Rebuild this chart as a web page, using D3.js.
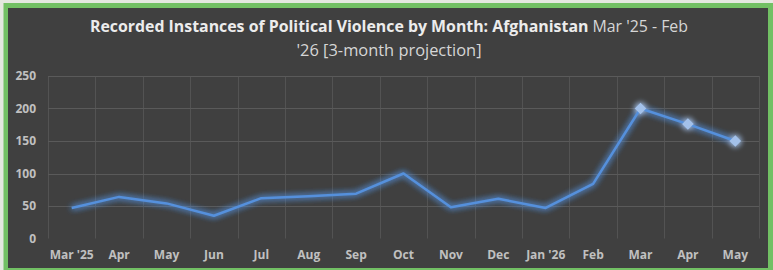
<!DOCTYPE html>
<html>
<head>
<meta charset="utf-8">
<script src="https://cdn.jsdelivr.net/npm/d3@7"></script>
<style>
  body { margin: 0; background: #e4e8e0; }
  #wrapper { width: 773px; height: 270px; }
</style>
</head>
<body>
<div id="wrapper"></div>
<script>
// data
const months = ["Mar '25", "Apr", "May", "Jun", "Jul", "Aug", "Sep", "Oct", "Nov", "Dec", "Jan '26", "Feb", "Mar", "Apr ", "May "]
const incidents = [47, 64, 54, 35, 62, 65, 69, 100, 48, 61, 47, 84, 200, 176, 150]
const projected = [false, false, false, false, false, false, false, false, false, false, false, false, true, true, true]
const yTicks = [0, 50, 100, 150, 200, 250]

function drawChart() {
  const dataset = months.map((m, i) => ({month: m, value: incidents[i], proj: projected[i]}))
  const xAccessor = d => d.month
  const yAccessor = d => d.value

  let dimensions = {
    width: 773,
    height: 270,
    margin: {top: 76, right: 14, bottom: 31.5, left: 48},
  }
  dimensions.boundedWidth = 759 - dimensions.margin.left
  dimensions.boundedHeight = dimensions.height - dimensions.margin.top - dimensions.margin.bottom

  const wrapper = d3.select("#wrapper")
    .append("svg")
      .attr("width", dimensions.width)
      .attr("height", dimensions.height)

  // glow for the line
  const defs = wrapper.append("defs")
  const glow = defs.append("filter")
      .attr("id", "glow")
      .attr("x", "-20%").attr("y", "-50%")
      .attr("width", "140%").attr("height", "200%")
  glow.append("feGaussianBlur")
      .attr("in", "SourceGraphic")
      .attr("stdDeviation", 3)
      .attr("result", "blur")
  const merge = glow.append("feMerge")
  merge.append("feMergeNode").attr("in", "blur")
  merge.append("feMergeNode").attr("in", "blur")
  merge.append("feMergeNode").attr("in", "SourceGraphic")

  // frame: green border, dark panel
  wrapper.append("rect")
      .attr("x", 3.5).attr("y", 3)
      .attr("width", 773 - 3.5).attr("height", 267)
      .attr("fill", "#72c064")
  wrapper.append("rect")
      .attr("x", 8).attr("y", 8)
      .attr("width", 760).attr("height", 260)
      .attr("fill", "#404040")

  // title
  const title = wrapper.append("g")
      .style("font-family", "'Open Sans', sans-serif")
      .style("font-size", "16px")
  const t1 = title.append("text")
      .attr("x", 389).attr("y", 31.5)
      .attr("text-anchor", "middle")
      .attr("textLength", 598)
      .attr("lengthAdjust", "spacingAndGlyphs")
  t1.append("tspan")
      .attr("fill", "#ececec")
      .attr("font-weight", "bold")
      .text("Recorded Instances of Political Violence by Month: Afghanistan")
  t1.append("tspan")
      .attr("fill", "#d6d6d6")
      .text(" Mar '25 - Feb")
  title.append("text")
      .attr("x", 389).attr("y", 55.5)
      .attr("text-anchor", "middle")
      .attr("textLength", 185)
      .attr("lengthAdjust", "spacingAndGlyphs")
      .attr("fill", "#d6d6d6")
      .text("'26 [3-month projection]")

  const bounds = wrapper.append("g")
      .style("transform", `translate(${dimensions.margin.left}px, ${dimensions.margin.top}px)`)

  // scales
  const xScale = d3.scaleBand()
    .domain(months)
    .range([0, dimensions.boundedWidth])

  const yScale = d3.scaleLinear()
    .domain([0, 250])
    .range([dimensions.boundedHeight, 0])

  // gridlines
  const grid = bounds.append("g")
      .attr("stroke", "#5a5a5a")
      .attr("stroke-width", 1)
  grid.selectAll(".h")
    .data(yTicks.filter(d => d > 0))
    .join("line")
      .attr("x1", 0).attr("x2", dimensions.boundedWidth)
      .attr("y1", d => Math.round(yScale(d)) + 0.5)
      .attr("y2", d => Math.round(yScale(d)) + 0.5)
  grid.selectAll(".v")
    .data(d3.range(months.length + 1))
    .join("line")
      .attr("x1", i => Math.round(i * xScale.step()) + 0.5)
      .attr("x2", i => Math.round(i * xScale.step()) + 0.5)
      .attr("y1", 0).attr("y2", dimensions.boundedHeight)
      .attr("stroke-opacity", 0.75)

  // line
  const lineGenerator = d3.line()
    .x(d => xScale(xAccessor(d)) + xScale.bandwidth() / 2)
    .y(d => yScale(yAccessor(d)))

  const marks = bounds.append("g").attr("filter", "url(#glow)")
  marks.append("path")
      .attr("d", lineGenerator(dataset))
      .attr("fill", "none")
      .attr("stroke", "#5590dc")
      .attr("stroke-width", 2.5)
      .attr("stroke-linejoin", "round")

  marks.selectAll("path.diamond")
    .data(dataset.filter(d => d.proj))
    .join("path")
      .attr("class", "diamond")
      .attr("d", d3.symbol(d3.symbolDiamond2, 85))
      .attr("transform", d => `translate(${xScale(xAccessor(d)) + xScale.bandwidth() / 2},${yScale(yAccessor(d))})`)
      .attr("fill", "#a3c1ea")

  // axes
  const yAxisGenerator = d3.axisLeft(yScale)
    .tickValues(yTicks)
    .tickSize(0)
    .tickPadding(12)
  const yAxis = bounds.append("g").call(yAxisGenerator)
  yAxis.select(".domain").remove()

  const xAxisGenerator = d3.axisBottom(xScale)
    .tickSize(0)
    .tickPadding(12)
    .tickFormat(d => d.trim())
  const xAxis = bounds.append("g")
      .call(xAxisGenerator)
      .style("transform", `translateY(${dimensions.boundedHeight}px)`)
  xAxis.select(".domain").remove()

  wrapper.selectAll(".tick text")
      .attr("fill", "#c0c0c0")
      .style("font-family", "'Open Sans', sans-serif")
      .style("font-weight", "bold")
      .style("font-size", "12px")
}

drawChart()
</script>
</body>
</html>
